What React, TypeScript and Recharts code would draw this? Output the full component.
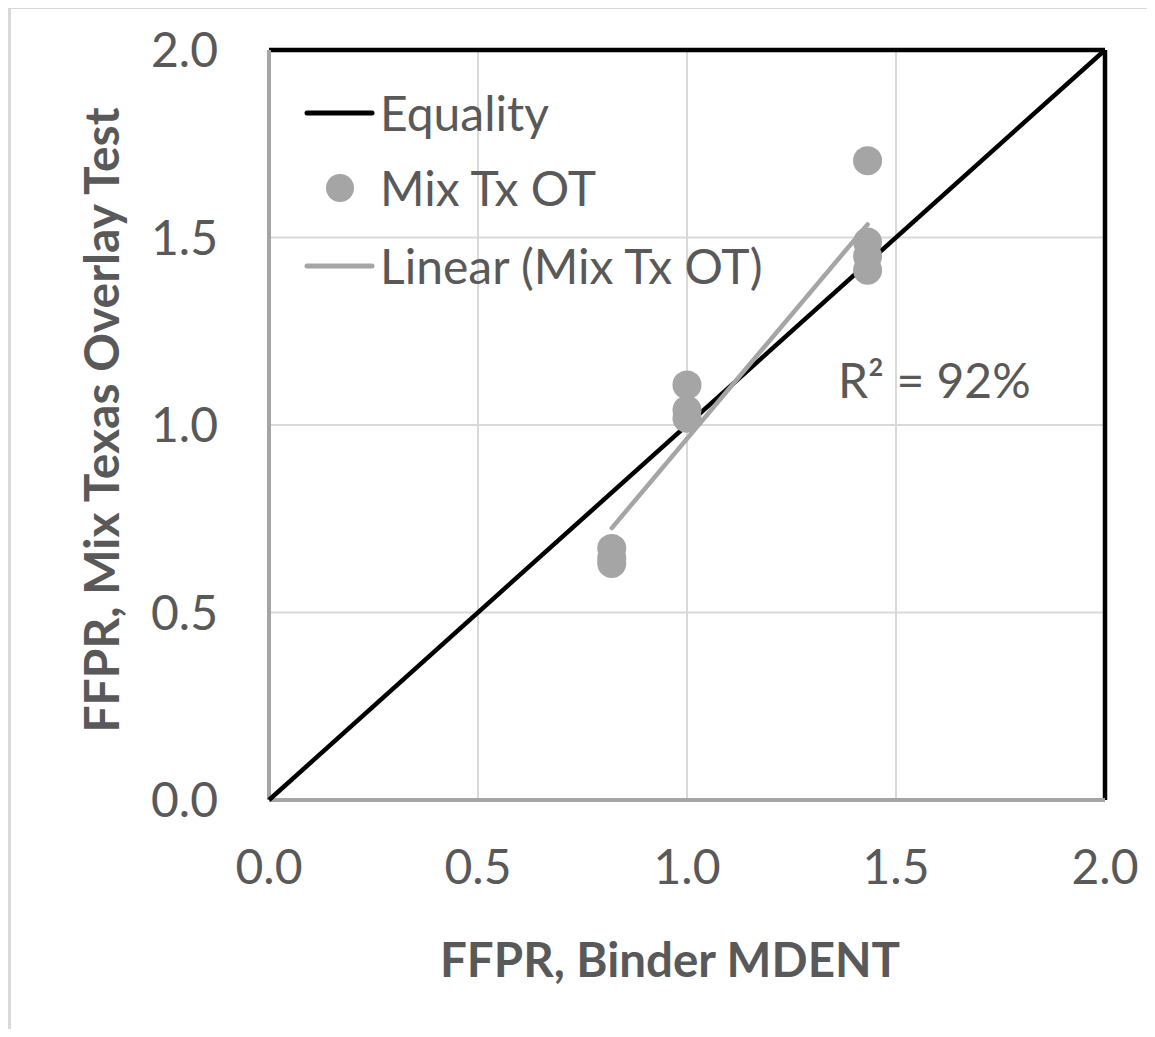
import React from 'react';
import {
  ScatterChart,
  Scatter,
  XAxis,
  YAxis,
  CartesianGrid,
  ReferenceLine,
} from 'recharts';

// FFPR from binder MDENT vs FFPR from mix Texas overlay test
const mdentFfpr = [0.82, 0.82, 0.82, 1.0, 1.0, 1.0, 1.432, 1.432, 1.432, 1.432];
const otFfpr = [0.671, 0.645, 0.631, 1.107, 1.04, 1.018, 1.705, 1.488, 1.45, 1.413];

const equalityX = [0, 2];
const equalityY = [0, 2];

// linear trendline end points
const trendX = [0.82, 1.432];
const trendY = [0.725, 1.535];

const axisTicks = [0, 0.5, 1.0, 1.5, 2.0];

const TEXT = '#595959';
const GREY = '#a5a5a5';
const FONT = 'Lato, "Open Sans", sans-serif';

const points = mdentFfpr.map((x, i) => ({ x, y: otFfpr[i] }));
const equality = equalityX.map((x, i) => ({ x, y: equalityY[i] }));
const trend = trendX.map((x, i) => ({ x, y: trendY[i] }));

const Dot = (props: any) => (
  <circle cx={props.cx} cy={props.cy} r={14.5} fill={GREY} />
);
const NoDot = () => <g />;

const legendRow: React.CSSProperties = {
  position: 'absolute',
  left: 372,
  height: 50,
  lineHeight: '50px',
  fontSize: 48,
  color: TEXT,
  fontFamily: FONT,
  whiteSpace: 'nowrap',
};

export default function App() {
  return (
    <div style={{ position: 'relative', width: 1139, height: 1021, overflow: 'hidden' }}>
      <div
        style={{
          position: 'absolute',
          left: 0,
          top: -2,
          width: 2000,
          height: 2000,
          borderLeft: '3px solid #d9d9d9',
          borderTop: '3px solid #d9d9d9',
        }}
      />
      <div style={{ position: 'absolute', left: 0, top: 0 }}>
        <ScatterChart
          width={1139}
          height={1021}
          margin={{ top: 42, right: 42, left: 0, bottom: 0 }}
        >
          <CartesianGrid stroke="#d9d9d9" strokeWidth={2} />
          <XAxis
            type="number"
            dataKey="x"
            domain={[0, 2]}
            ticks={axisTicks}
            tickFormatter={(v: number) => v.toFixed(1)}
            tick={{ fill: TEXT, fontSize: 48, fontFamily: FONT }}
            tickLine={false}
            tickMargin={44}
            axisLine={{ stroke: GREY, strokeWidth: 4 }}
            height={229}
            label={() => (
              <text
                x={662}
                y={950}
                textAnchor="middle"
                dominantBaseline="central"
                fill={TEXT}
                fontSize={47.5}
                fontWeight="bold"
                fontFamily={FONT}
              >
                FFPR, Binder MDENT
              </text>
            )}
          />
          <YAxis
            type="number"
            dataKey="y"
            domain={[0, 2]}
            ticks={axisTicks}
            tickFormatter={(v: number) => v.toFixed(1)}
            tick={{ fill: TEXT, fontSize: 48, fontFamily: FONT }}
            tickLine={false}
            tickMargin={45}
            axisLine={{ stroke: GREY, strokeWidth: 4 }}
            width={261}
            label={() => (
              <text
                x={92}
                y={412}
                textAnchor="middle"
                dominantBaseline="central"
                fill={TEXT}
                fontSize={48}
                fontWeight="bold"
                fontFamily={FONT}
                transform="rotate(-90 92 412)"
              >
                FFPR, Mix Texas Overlay Test
              </text>
            )}
          />
          <ReferenceLine y={2} stroke="#000" strokeWidth={4.5} />
          <ReferenceLine x={2} stroke="#000" strokeWidth={4.5} />
          <Scatter
            name="Equality"
            data={equality}
            line={{ stroke: '#000', strokeWidth: 4.5 }}
            shape={NoDot}
            isAnimationActive={false}
          />
          <Scatter
            name="Mix Tx OT"
            data={points}
            shape={Dot}
            isAnimationActive={false}
          />
          <Scatter
            name="Linear (Mix Tx OT)"
            data={trend}
            line={{ stroke: GREY, strokeWidth: 4.5, strokeLinecap: 'round' }}
            shape={NoDot}
            isAnimationActive={false}
          />
        </ScatterChart>
      </div>

      {/* legend */}
      <svg
        style={{ position: 'absolute', left: 0, top: 0, pointerEvents: 'none' }}
        width={1139}
        height={1021}
      >
        <line x1={299} y1={105} x2={364} y2={105} stroke="#000" strokeWidth={5} strokeLinecap="round" />
        <circle cx={332} cy={180} r={14} fill={GREY} />
        <line x1={299} y1={258} x2={364} y2={258} stroke={GREY} strokeWidth={5} strokeLinecap="round" />
      </svg>
      <div style={{ ...legendRow, top: 80 }}>Equality</div>
      <div style={{ ...legendRow, top: 155 }}>Mix Tx OT</div>
      <div style={{ ...legendRow, top: 233 }}>Linear (Mix Tx OT)</div>

      <div style={{ ...legendRow, left: 830, top: 347 }}>R² = 92%</div>
    </div>
  );
}
